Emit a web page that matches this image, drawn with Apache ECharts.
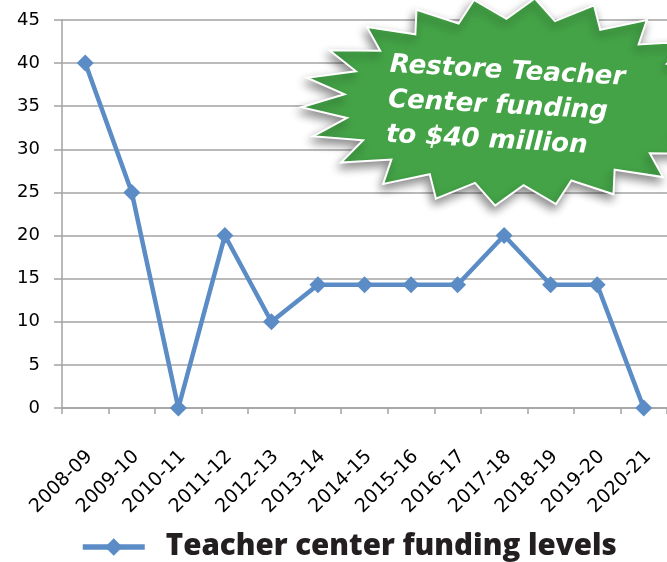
<!DOCTYPE html>
<html>
<head>
<meta charset="utf-8">
<script src="https://cdn.jsdelivr.net/npm/echarts@6/dist/echarts.min.js"></script>
<style>
html,body{margin:0;padding:0;background:#fff;}
#chart{width:667px;height:562px;}
</style>
</head>
<body>
<div id="chart"></div>
<script>
const categories = ['2008-09','2009-10','2010-11','2011-12','2012-13','2013-14','2014-15','2015-16','2016-17','2017-18','2018-19','2019-20','2020-21'];
const fundingLevels = [40, 25, 0, 20, 10, 14.3, 14.3, 14.3, 14.3, 20, 14.3, 14.3, 0];
const seriesName = 'Teacher center funding levels';
const calloutLines = ['Restore Teacher', 'Center funding', 'to $40 million'];

// Starburst decoration shape
function starPoints(cx, cy, a, b, n, inner, rot) {
  const pts = [];
  for (let i = 0; i < n * 2; i++) {
    const ang = rot + Math.PI * i / n;
    const r = (i % 2 === 0) ? 1 : inner;
    pts.push([cx + a * r * Math.cos(ang), cy + b * r * Math.sin(ang)]);
  }
  return pts;
}

const chart = echarts.init(document.getElementById('chart'), null, {renderer: 'canvas'});
const gray = '#a3a3a3';
const blue = '#5B8CC6';

chart.setOption({
  animation: false,
  backgroundColor: '#fff',
  grid: {left: 62, right: -2, top: 20, bottom: 154, containLabel: false},
  xAxis: {
    type: 'category',
    data: categories,
    boundaryGap: true,
    axisLine: {show: true, lineStyle: {color: gray, width: 1.5}},
    axisTick: {show: true, length: 6, interval: 0, lineStyle: {color: gray, width: 1.5}},
    axisLabel: {interval: 0, rotate: 45, fontFamily: 'DejaVu Sans', fontSize: 19, color: '#000', margin: 50, padding: [0, -6, 0, 0]},
    splitLine: {show: false}
  },
  yAxis: {
    type: 'value',
    min: 0, max: 45, interval: 5,
    axisLine: {show: true, lineStyle: {color: gray, width: 1.5}},
    axisTick: {show: true, length: 8, lineStyle: {color: gray, width: 1.5}},
    axisLabel: {fontFamily: 'DejaVu Sans', fontSize: 18, color: '#000', margin: 22},
    splitLine: {show: true, lineStyle: {color: gray, width: 1.5}}
  },
  legend: {
    show: true,
    left: 80,
    top: 532,
    padding: 0,
    itemWidth: 62,
    itemHeight: 22,
    lineStyle: {width: 5.5},
    textStyle: {fontFamily: 'Open Sans', fontWeight: 800, fontSize: 29.5, color: '#231f20', padding: [0, 0, 0, 16]},
    data: [seriesName]
  },
  series: [{
    name: seriesName,
    type: 'line',
    data: fundingLevels,
    symbol: 'diamond',
    symbolSize: 17,
    lineStyle: {color: blue, width: 4.5},
    itemStyle: {color: blue},
    z: 3
  }],
  graphic: [
    {
      type: 'polygon',
      z: 100,
      shape: {points: starPoints(515, 102, 214, 104, 22, 0.8, -0.05)},
      style: {fill: '#44a347', stroke: '#ffffff', lineWidth: 2,
        shadowBlur: 10, shadowColor: 'rgba(0,0,0,0.45)', shadowOffsetX: -2, shadowOffsetY: 5}
    },
    {
      type: 'text',
      z: 101,
      x: 388,
      y: 100,
      rotation: -0.055,
      style: {
        text: calloutLines.join('\n'),
        fill: '#ffffff',
        font: 'italic bold 26px "DejaVu Sans"',
        lineHeight: 35,
        textAlign: 'left',
        textVerticalAlign: 'middle'
      }
    }
  ]
});
</script>
</body>
</html>
